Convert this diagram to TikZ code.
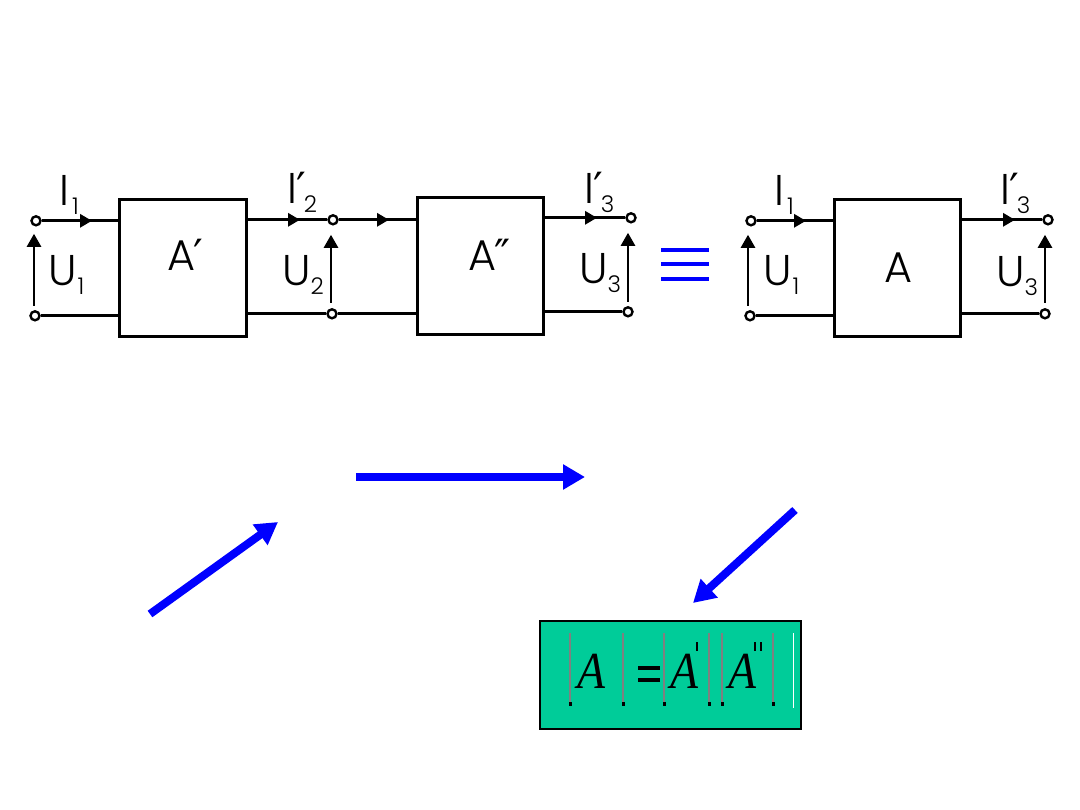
\documentclass[tikz,border=0pt]{standalone}
\usepackage{fontspec}
\setmainfont{Poppins Light}
\newfontfamily\mathlike{Liberation Serif}
\newfontfamily\primefont{DejaVu Sans}
\usepackage{tikz}
\usetikzlibrary{arrows.meta}
\definecolor{resultgreen}{HTML}{00CC99}
\newcommand{\lowidx}[2]{\kern#1pt\raisebox{-8.5pt}{\fontsize{23}{23}\selectfont #2}}
\newcommand{\onemark}{{\primefont ′}}
\newcommand{\twomark}{{\primefont ″}}
\tikzstyle{block} = [rectangle, draw=black, line width=3pt, fill=white, inner sep=0pt]
\tikzstyle{terminal} = [circle, draw=black, line width=2.4pt, fill=white, minimum size=9pt, inner sep=0pt]
\tikzstyle{wire} = [black, line width=3pt]
\tikzstyle{current} = [wire, -{Triangle[length=12pt,width=13pt]}]
\tikzstyle{voltage} = [black, line width=2.6pt, -{Triangle[length=13pt,width=14pt]}]
\tikzstyle{tag} = [anchor=base west, inner sep=0pt, font=\fontsize{43}{43}\selectfont]
\tikzstyle{bigarrow} = [blue, line width=8pt, -{Triangle[length=22pt,width=24pt]}]
\tikzstyle{detbar} = [draw=gray, line width=1.2pt]
\tikzstyle{letter} = [anchor=base, inner sep=0pt, font=\mathlike\itshape\fontsize{52}{52}\selectfont]
\begin{document}
\begin{tikzpicture}[x=1pt, y=-1pt]
    \useasboundingbox (0,0) rectangle (1080,810);
    \fill [white] (0,0) rectangle (1080,810);

    \begin{scope}[shift={(0,0.8)}]
    % the three blocks
    \node (blockA1) [block, minimum width=127pt, minimum height=137pt] at (182.5,267.5) {};
    \node (blockA2) [block, minimum width=126pt, minimum height=137pt] at (480,265.5) {};
    \node (blockA) [block, minimum width=126pt, minimum height=137pt] at (897,267.5) {};

    % terminals
    \node (in1) [terminal] at (36,220) {};
    \node (in2) [terminal] at (35,315) {};
    \node (mid1) [terminal] at (333,219) {};
    \node (mid2) [terminal] at (332,313) {};
    \node (out1) [terminal] at (631,217) {};
    \node (out2) [terminal] at (628,311) {};
    \node (inb1) [terminal] at (751,220) {};
    \node (inb2) [terminal] at (750,315) {};
    \node (outb1) [terminal] at (1048,219) {};
    \node (outb2) [terminal] at (1045,313) {};

    % wires
    \draw [wire] (in1) -- (blockA1.west |- in1);
    \draw [wire] (in2) -- (blockA1.west |- in2);
    \draw [wire] (blockA1.east |- mid1) -- (mid1);
    \draw [wire] (blockA1.east |- mid2) -- (mid2);
    \draw [wire] (mid1) -- (blockA2.west |- mid1);
    \draw [wire] (mid2) -- (blockA2.west |- mid2);
    \draw [wire] (blockA2.east |- out1) -- (out1);
    \draw [wire] (blockA2.east |- out2) -- (out2);
    \draw [wire] (inb1) -- (blockA.west |- inb1);
    \draw [wire] (inb2) -- (blockA.west |- inb2);
    \draw [wire] (blockA.east |- outb1) -- (outb1);
    \draw [wire] (blockA.east |- outb2) -- (outb2);

    % current arrows on the wires
    \coordinate (tipI1) at (92,220);
    \coordinate (tipI2) at (300,219);
    \coordinate (tipM) at (389,219);
    \coordinate (tipI3) at (597,217);
    \coordinate (tipIb1) at (806,220);
    \coordinate (tipIb3) at (1015,219);
    \draw [current] (in1) -- (tipI1);
    \draw [current] (blockA1.east |- tipI2) -- (tipI2);
    \draw [current] (mid1) -- (tipM);
    \draw [current] (blockA2.east |- tipI3) -- (tipI3);
    \draw [current] (inb1) -- (tipIb1);
    \draw [current] (blockA.east |- tipIb3) -- (tipIb3);

    % voltage arrows
    \coordinate (topU1) at (34,233);
    \coordinate (topU2) at (331,234);
    \coordinate (topU3) at (628,232);
    \coordinate (topUb1) at (748,234);
    \coordinate (topUb3) at (1045,234);
    \draw [voltage] (34,305) -- (topU1);
    \draw [voltage] (331,302) -- (topU2);
    \draw [voltage] (628,301) -- (topU3);
    \draw [voltage] (748,305) -- (topUb1);
    \draw [voltage] (1045,302) -- (topUb3);

    % labels
    \node (lblI1) [tag] at (59,205) {I\lowidx{3}{1}};
    \node (lblU1) [tag] at (48,285) {U\lowidx{1}{1}};
    \node (lblA1) [tag] at (167,270) {A\kern-2pt\onemark};
    \node (lblI2) [tag] at (287,203) {I\kern-1pt\onemark\lowidx{-2}{2}};
    \node (lblU2) [tag] at (282,285) {U\lowidx{0}{2}};
    \node (lblA2) [tag] at (468,270) {A\kern-2pt\twomark};
    \node (lblI3) [tag] at (584,203) {I\kern-1pt\onemark\lowidx{-2}{3}};
    \node (lblU3) [tag] at (579,283) {U\lowidx{0}{3}};
    \node (lblIb1) [tag] at (774,205) {I\lowidx{3}{1}};
    \node (lblUb1) [tag] at (763,285) {U\lowidx{1}{1}};
    \node (lblA) [tag] at (884,282) {A};
    \node (lblIb3) [tag] at (1000,204) {I\kern-1pt\onemark\lowidx{-2}{3}};
    \node (lblUb3) [tag] at (996,286) {U\lowidx{0}{3}};
    \end{scope}

    % identity sign
    \foreach \y in {250,264,279}
        \draw [blue, line width=3.4pt] (661,\y) -- (709,\y);

    % flow between the steps
    \draw [bigarrow] (356,477) -- (585,477);
    \draw [bigarrow] (150,614) -- (278,522);
    \draw [bigarrow] (795,510) -- (693,603);

    % result box
    \node (result) [rectangle, draw=black, line width=2pt, fill=resultgreen, minimum width=261pt, minimum height=108pt, inner sep=0pt] at (670.5,675) {};
    \foreach \x in {570,623,664,709,722,773}
    {
        \draw [detbar] (\x,633) -- (\x,705);
        \fill [black] (\x+0.5-1.5,702) rectangle (\x+0.5+1.5,705.5);
    }
    \draw [white, line width=1pt] (793,633) -- (793,708);
    \node (detA) [letter] at (591,688) {\scalebox{.88}[1]{A}};
    \node (detA1) [letter] at (684,688) {\scalebox{.88}[1]{A}};
    \node (detA2) [letter] at (742,688) {\scalebox{.88}[1]{A}};
    \draw [black, line width=3.2pt] (638,668) -- (660,668);
    \draw [black, line width=3.2pt] (638,680) -- (660,680);
    \fill [black] (696,642) rectangle (698,651);
    \fill [black] (754,642) rectangle (756,651);
    \fill [black] (760,642) rectangle (762,651);
\end{tikzpicture}
\end{document}
